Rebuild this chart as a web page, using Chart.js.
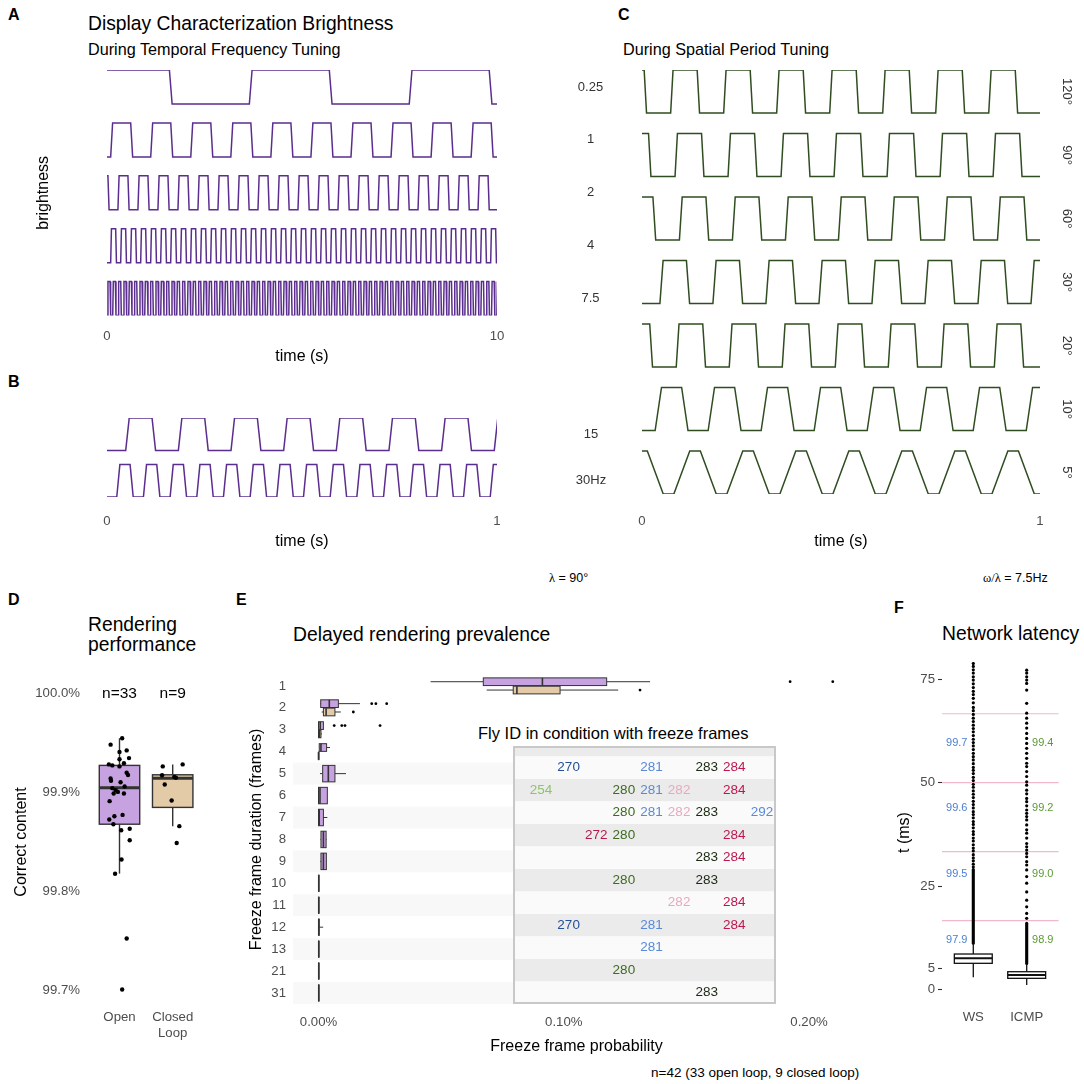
<!DOCTYPE html>
<html>
<head>
<meta charset="utf-8">
<title>Display characterization</title>
<script src="https://cdn.jsdelivr.net/npm/chart.js@4.4.1/dist/chart.umd.min.js"></script>
<style>
  body { margin: 0; background: #fff; font-family: "Liberation Sans", Arial, sans-serif; }
  #page { position: relative; width: 1084px; height: 1084px; overflow: hidden; }
  canvas { position: absolute; }
  .txt { position: absolute; white-space: nowrap; line-height: 1; color: #000; }
  .tag { font-weight: bold; font-size: 16px; }
  .ttl { font-size: 19.3px; }
  .sub { font-size: 16.2px; }
  .note { font-size: 12.5px; }
  .gr { font-family: "Liberation Serif", "DejaVu Serif", serif; }
</style>
</head>
<body>
<div id="page">
  <div class="txt tag" style="left:8px;top:7px">A</div>
  <div class="txt ttl" style="left:88px;top:14.3px">Display Characterization Brightness</div>
  <div class="txt sub" style="left:88px;top:40.6px">During Temporal Frequency Tuning</div>
  <div class="txt tag" style="left:8px;top:374px">B</div>
  <div class="txt tag" style="left:618px;top:7px">C</div>
  <div class="txt sub" style="left:623px;top:41.3px">During Spatial Period Tuning</div>
  <div class="txt note" style="left:549px;top:572px"><span class="gr">λ</span> = 90°</div>
  <div class="txt note" style="left:983px;top:572px"><span class="gr">ω/λ</span> = 7.5Hz</div>
  <div class="txt tag" style="left:8px;top:592px">D</div>
  <div class="txt ttl" style="left:88px;top:615.4px;line-height:20px">Rendering<br>performance</div>
  <div class="txt tag" style="left:236px;top:592px">E</div>
  <div class="txt ttl" style="left:293px;top:624.6px">Delayed rendering prevalence</div>
  <div class="txt" style="left:478px;top:725.3px;font-size:16.5px">Fly ID in condition with freeze frames</div>
  <div class="txt" style="left:651px;top:1066px;font-size:13.5px">n=42 (33 open loop, 9 closed loop)</div>
  <div class="txt tag" style="left:894px;top:600px">F</div>
  <div class="txt ttl" style="left:942px;top:624.4px">Network latency</div>

  <canvas id="chartA" width="590" height="300" style="left:30px;top:70px"></canvas>
  <canvas id="chartB" width="590" height="137" style="left:30px;top:418px"></canvas>
  <canvas id="chartC" width="484" height="485" style="left:600px;top:70px"></canvas>
  <canvas id="chartD" width="202" height="377" style="left:8px;top:668px"></canvas>
  <canvas id="chartE" width="627" height="400" style="left:243px;top:660px"></canvas>
  <canvas id="chartTable" width="263" height="258" style="left:513px;top:746px"></canvas>
  <canvas id="chartF" width="204" height="390" style="left:880px;top:650px"></canvas>
</div>
<script>
// ---------- A: brightness during temporal frequency tuning (10 s) ----------
const tfLabels = ["0.25", "1", "2", "4", "7.5"];
const tfPeriods = [4.1, 1.027, 0.513, 0.2564, 0.1368];   // s, from edge spacing
const tfFirstRise = [3.65, 0.094, 0.28, 0.094, 0.01];    // s
const tfRamps = [0.07, 0.05, 0.03, 0.02, 0.015];

// ---------- B: 1 s traces at lambda = 90 deg ----------
const bLabels = ["15", "30Hz"];
const bPeriods = [0.135, 0.0684];
const bFirstRise = [0.048, 0.025];
const bRamps = [0.009, 0.008];

// ---------- C: spatial period tuning at 7.5 Hz ----------
const spLabels = ["120°", "90°", "60°", "30°", "20°", "10°", "5°"];
const spPeriods = [0.1332, 0.1332, 0.1332, 0.1332, 0.1332, 0.1332, 0.1332];
const spFirstRise = [0.072, 0.083, 0.094, 0.045, 0.086, 0.033, 0.08];
const spRamps = [0.006, 0.006, 0.007, 0.008, 0.007, 0.016, 0.04];

// ---------- D: rendering performance ----------
const loopGroups = ["Open", ["Closed", "Loop"]];
const loopN = ["n=33", "n=9"];
const loopTicks = [99.7, 99.8, 99.9, 100.0];
const openContent = [99.955, 99.9485, 99.9427, 99.9411, 99.9337, 99.9349, 99.9298, 99.9285, 99.9275, 99.9265,
  99.920, 99.9178, 99.9142, 99.912, 99.9104, 99.9045, 99.9023, 99.9061, 99.899, 99.899, 99.8913, 99.8774,
  99.876, 99.8728, 99.868, 99.8618, 99.8634, 99.8518, 99.8323, 99.8178, 99.7524, 99.7007, 99.9007];
const openJitter = [0.05, -0.167, 0.135, 0, 0, 0.179, 0.083, -0.2, -0.135, 0, 0.135, 0.16, -0.167, -0.16, 0.02,
  -0.135, -0.071, 0.096, -0.11, 0.083, -0.186, 0.058, -0.096, -0.192, -0.115, 0.032, 0.192, 0.192, 0.038,
  -0.083, 0.135, 0.05, -0.03];
const closedContent = [99.9265, 99.9285, 99.9175, 99.9159, 99.9081, 99.892, 99.866, 99.849, 99.915];
const closedJitter = [-0.187, 0.187, -0.2, 0.03, -0.15, -0.02, 0.125, 0.075, 0.06];
// [lower whisker, q1, median, q3, upper whisker]
const loopBoxes = [[99.818, 99.868, 99.905, 99.9275, 99.955], [99.866, 99.885, 99.9145, 99.918, 99.9285]];

// ---------- E: delayed rendering prevalence (% of frames) ----------
const freezeRows = ["1", "2", "3", "4", "5", "6", "7", "8", "9", "10", "11", "12", "13", "21", "31"];
const freezeTicks = [0, 0.1, 0.2];
const openFreeze = [
  [0.0457, 0.0672, 0.0913, 0.1175, 0.1352],
  [0.0006, 0.0009, 0.0044, 0.0081, 0.0169],
  [0, 0, 0.0007, 0.002, 0.002],
  [0.0003, 0.0003, 0.001, 0.0033, 0.0047],
  [0.0006, 0.0017, 0.004, 0.0067, 0.0112],
  [0, 0, 0.0006, 0.0036, 0.0036],
  [0, 0, 0.0003, 0.002, 0.0036],
  [0.0008, 0.001, 0.002, 0.0031, 0.0033],
  [0.0007, 0.001, 0.002, 0.0032, 0.0033],
  [0, 0, 0.0001, 0.0002, 0.0002],
  [0, 0, 0.0001, 0.0002, 0.0002],
  [0, 0, 0.0001, 0.0003, 0.0019],
  [0, 0, 0.0001, 0.0002, 0.0002],
  [0, 0, 0.0001, 0.0002, 0.0002],
  [0, 0, 0.0001, 0.0002, 0.0002]];
const closedFreeze = [
  [0.0686, 0.0794, 0.0809, 0.0985, 0.1222],
  [0.0013, 0.002, 0.0031, 0.0067, 0.0091],
  [0, 0, 0.0004, 0.001, 0.0014],
  [0, 0, 0, 0.0002, 0.0002],
  null, null, null, null, null, null, null, null, null, null, null];
const openFreezeOut = [[0.1923, 0.2097], [0.0217, 0.0234, 0.0278], [0.0064, 0.0095, 0.0108, 0.0251],
  [], [], [], [], [], [], [], [], [], [], [], []];
const closedFreezeOut = [[0.1311], [0.0142], [], [], [], [], [], [], [], [], [], [], [], [], []];

// fly IDs per freeze duration
const flyIds = ["254", "270", "272", "280", "281", "282", "283", "284", "292"];
const flyColors = ["#8fc46a", "#22509a", "#b3184b", "#3d6b1f", "#5a8ad6", "#e8a9c0", "#1a2a10", "#c0164c", "#5b8ad8"];
const flyTableRows = ["5", "6", "7", "8", "9", "10", "11", "12", "13", "21", "31"];
const flyTable = [
  ["270", "281", "283", "284"],
  ["254", "280", "281", "282", "284"],
  ["280", "281", "282", "283", "292"],
  ["272", "280", "284"],
  ["283", "284"],
  ["280", "283"],
  ["282", "284"],
  ["270", "281", "284"],
  ["281"],
  ["280"],
  ["283"]];

// ---------- F: network latency (ms) ----------
const latencyGroups = ["WS", "ICMP"];
const latencyTicks = [0, 5, 25, 50, 75];
const latencyBoxes = [[2.95, 6.33, 7.54, 8.58, 11.2], [1.1, 2.7, 3.5, 4.3, 6.3]];
const latencyDense = [[11.2, 29.0], [6.3, 16.0]];
const wsOutliers = [29.6, 30.3, 31.1, 31.8, 32.6, 33.5, 34.2, 35.0, 35.9, 36.6, 37.5, 38.2, 39.1, 39.9, 40.6,
  41.5, 42.3, 43.0, 43.9, 44.7, 45.5, 46.4, 47.2, 48.0, 48.9, 49.6, 50.5, 51.3, 52.2, 53.0, 53.7, 54.6, 55.5,
  56.3, 57.1, 58.0, 58.9, 59.7, 60.5, 61.4, 62.3, 63.1, 63.9, 64.8, 65.6, 66.5, 67.4, 68.2, 69.3, 70.4, 71.3,
  72.1, 73.0, 73.9, 74.8, 75.6, 76.5, 77.3, 78.1, 78.8];
const icmpOutliers = [17.2, 18.4, 20.0, 21.6, 23.6, 25.7, 27.3, 28.9, 30.1, 30.9, 32.1, 32.9, 33.7, 34.5, 35.3,
  36.6, 37.8, 38.6, 39.8, 41.0, 41.8, 42.6, 43.4, 44.4, 45.4, 46.2, 47.3, 48.2, 49.4, 50.2, 51.5, 52.7, 53.9,
  54.7, 55.9, 57.1, 58.3, 59.5, 60.7, 61.9, 63.2, 64.4, 65.6, 66.8, 69.2, 72.4, 74.0, 74.8, 75.6, 76.5, 77.2];
const frameLines = [16.67, 33.33, 50, 66.67];
const wsPercentiles = ["97.9", "99.5", "99.6", "99.7"];
const icmpPercentiles = ["98.9", "99.0", "99.2", "99.4"];
const percentileAt = [12, 27.9, 43.8, 59.5];

// ---------- shared look ----------
Chart.defaults.font.family = '"Liberation Sans", Arial, sans-serif';
Chart.defaults.color = '#4d4d4d';
Chart.defaults.animation = false;
Chart.defaults.responsive = false;
Chart.defaults.plugins.legend.display = false;
Chart.defaults.plugins.tooltip.enabled = false;

const noGrid = {display: false, drawTicks: false};
const noBorder = {display: false};
const tickFont = {size: 13.2};
const titleFont = {size: 16};
const purpleFill = '#c7a2e0';
const tanFill = '#e4cba8';
const FONT = '"Liberation Sans", Arial, sans-serif';

// a square brightness trace from its first rising edge and period
function squareTrace(firstRise, period, ramp, tEnd, base) {
  const half = period / 2;
  let start = firstRise;
  while (start > 0) start -= period;
  const pts = [{x: start - half, y: base}];
  for (let k = 0; start + k * half < tEnd + half; k++) {
    const t = start + k * half;
    const rising = k % 2 === 0;
    pts.push({x: t, y: base + (rising ? 0 : 1)});
    pts.push({x: t + ramp, y: base + (rising ? 1 : 0)});
  }
  return pts;
}

function traceLabels(labels, centers, dx, rotate) {
  return {
    id: 'traceLabels',
    afterDraw(chart) {
      const ctx = chart.ctx, y = chart.scales.y;
      ctx.save();
      ctx.font = '13px ' + FONT;
      ctx.fillStyle = '#333';
      ctx.textAlign = 'center';
      ctx.textBaseline = 'middle';
      labels.forEach((lab, i) => {
        ctx.save();
        ctx.translate(chart.chartArea.right + dx, y.getPixelForValue(centers[i]));
        if (rotate) ctx.rotate(Math.PI / 2);
        ctx.fillText(lab, 0, 0);
        ctx.restore();
      });
      ctx.restore();
    }
  };
}

function waveChart(id, o) {
  const n = o.firstRise.length;
  const base = i => (n - 1 - i) * o.spacing;
  const datasets = o.firstRise.map((r, i) => ({
    data: squareTrace(r, o.periods[i], o.ramps[i], o.tEnd, base(i)),
    borderColor: o.color, borderWidth: 1.5, pointRadius: 0, fill: false
  }));
  return new Chart(document.getElementById(id), {
    type: 'line',
    data: {datasets},
    options: {
      layout: {padding: o.padding},
      scales: {
        x: {
          type: 'linear', min: 0, max: o.tEnd,
          afterBuildTicks: s => { s.ticks = [{value: 0}, {value: o.tEnd}]; },
          ticks: {padding: o.tickPad, font: tickFont},
          grid: noGrid, border: noBorder,
          title: {display: true, text: 'time (s)', color: '#000', font: titleFont},
          afterFit: s => { s.height = o.xAxisH; }
        },
        y: {
          type: 'linear', min: 0, max: base(0) + 1, display: !!o.yTitle,
          ticks: {display: false}, grid: noGrid, border: noBorder,
          title: {display: !!o.yTitle, text: o.yTitle || '', color: '#000', font: titleFont},
          afterFit: s => { s.width = o.yAxisW || 0; }
        }
      }
    },
    plugins: [traceLabels(o.labels, o.firstRise.map((r, i) => base(i) + 0.5), o.labelDx, o.rotate)]
  });
}

// box + whiskers drawn through the chart scales
function boxLayer(items, horizontal, line, lw, mlw) {
  return {
    id: 'boxLayer',
    beforeDatasetsDraw(chart) {
      const ctx = chart.ctx;
      const pos = horizontal ? chart.scales.y : chart.scales.x;
      const val = horizontal ? chart.scales.x : chart.scales.y;
      const P = (p, v) => horizontal ? [v, p] : [p, v];
      const seg = (a, b) => { ctx.beginPath(); ctx.moveTo(a[0], a[1]); ctx.lineTo(b[0], b[1]); ctx.stroke(); };
      ctx.save();
      ctx.strokeStyle = line;
      items.forEach(b => {
        const c = pos.getPixelForValue(b.at);
        const a = pos.getPixelForValue(b.at - b.half), z = pos.getPixelForValue(b.at + b.half);
        const [lo, q1, md, q3, hi] = b.stats.map(v => val.getPixelForValue(v));
        ctx.lineWidth = lw;
        seg(P(c, lo), P(c, q1));
        seg(P(c, q3), P(c, hi));
        const p1 = P(a, q1), p2 = P(z, q3);
        const x = Math.min(p1[0], p2[0]), y = Math.min(p1[1], p2[1]);
        const w = Math.abs(p2[0] - p1[0]), h = Math.abs(p2[1] - p1[1]);
        ctx.fillStyle = b.fill;
        ctx.fillRect(x, y, w, h);
        ctx.strokeRect(x, y, w, h);
        ctx.lineWidth = mlw;
        seg(P(a, md), P(z, md));
      });
      ctx.restore();
    }
  };
}

// ---------- A ----------
waveChart('chartA', {
  firstRise: tfFirstRise, periods: tfPeriods, ramps: tfRamps, labels: tfLabels,
  tEnd: 10, spacing: 1.556, color: '#5b2d8e',
  padding: {left: 0, right: 123, top: 0, bottom: 0},
  yTitle: 'brightness', yAxisW: 77, xAxisH: 54.4, tickPad: 12.5, labelDx: 93.5, rotate: false
});

// ---------- B ----------
waveChart('chartB', {
  firstRise: bFirstRise, periods: bPeriods, ramps: bRamps, labels: bLabels,
  tEnd: 1, spacing: 1.437, color: '#5b2d8e',
  padding: {left: 77, right: 123, top: 0, bottom: 0},
  xAxisH: 58, tickPad: 16, labelDx: 94, rotate: false
});

// ---------- C ----------
waveChart('chartC', {
  firstRise: spFirstRise, periods: spPeriods, ramps: spRamps, labels: spLabels,
  tEnd: 1, spacing: 1.4767, color: '#2f4d20',
  padding: {left: 42, right: 44, top: 0, bottom: 0},
  xAxisH: 61, tickPad: 19, labelDx: 27, rotate: true
});

// ---------- D ----------
const nLabels = {
  id: 'nLabels',
  afterDatasetsDraw(chart) {
    const ctx = chart.ctx;
    ctx.save();
    ctx.font = '15.5px ' + FONT;
    ctx.fillStyle = '#000';
    ctx.textAlign = 'center';
    ctx.textBaseline = 'middle';
    loopN.forEach((t, i) => ctx.fillText(t, chart.scales.x.getPixelForValue(i), chart.scales.y.getPixelForValue(100)));
    ctx.restore();
  }
};
new Chart(document.getElementById('chartD'), {
  type: 'scatter',
  data: {
    datasets: [
      {data: openContent.map((v, i) => ({x: openJitter[i], y: v})), backgroundColor: '#000', borderWidth: 0, pointRadius: 2.2},
      {data: closedContent.map((v, i) => ({x: 1 + closedJitter[i], y: v})), backgroundColor: '#000', borderWidth: 0, pointRadius: 2.2}
    ]
  },
  options: {
    layout: {padding: {top: 7.85, right: 9.9, left: 0, bottom: 0}},
    scales: {
      x: {
        type: 'linear', min: -0.5, max: 1.5,
        afterBuildTicks: s => { s.ticks = [{value: 0}, {value: 1}]; },
        ticks: {callback: v => loopGroups[v], padding: 14.3, font: tickFont},
        grid: noGrid, border: noBorder,
        afterFit: s => { s.height = 49.85; }
      },
      y: {
        type: 'linear', min: 99.695, max: 100.005,
        afterBuildTicks: s => { s.ticks = loopTicks.map(v => ({value: v})); },
        ticks: {callback: v => v.toFixed(1) + '%', padding: 12.9, font: tickFont},
        grid: noGrid, border: noBorder,
        title: {display: true, text: 'Correct content', color: '#000', font: titleFont},
        afterFit: s => { s.width = 84.9; }
      }
    }
  },
  plugins: [boxLayer([
    {at: 0, half: 0.38, stats: loopBoxes[0], fill: purpleFill},
    {at: 1, half: 0.38, stats: loopBoxes[1], fill: tanFill}
  ], false, '#333', 1.4, 3), nLabels]
});

// ---------- E ----------
const eBoxes = [];
const eOpenPts = [], eClosedPts = [];
openFreeze.forEach((st, i) => {
  const two = closedFreeze[i] !== null;
  eBoxes.push({at: two ? i - 0.19 : i, half: two ? 0.175 : 0.375, stats: st, fill: purpleFill});
  if (two) eBoxes.push({at: i + 0.19, half: 0.175, stats: closedFreeze[i], fill: tanFill});
  openFreezeOut[i].forEach(v => eOpenPts.push({x: v, y: two ? i - 0.19 : i}));
  closedFreezeOut[i].forEach(v => eClosedPts.push({x: v, y: i + 0.19}));
});
const eBands = {
  id: 'eBands',
  beforeDatasetsDraw(chart) {
    const ctx = chart.ctx, y = chart.scales.y, area = chart.chartArea;
    ctx.save();
    ctx.fillStyle = '#f8f8f8';
    for (let i = 4; i < freezeRows.length; i += 2) {
      const t = y.getPixelForValue(i - 0.5), b = y.getPixelForValue(i + 0.5);
      ctx.fillRect(area.left, t, 220, b - t);
    }
    ctx.restore();
  }
};
new Chart(document.getElementById('chartE'), {
  type: 'scatter',
  data: {
    datasets: [
      {data: eOpenPts, backgroundColor: '#000', borderWidth: 0, pointRadius: 1.4},
      {data: eClosedPts, backgroundColor: '#000', borderWidth: 0, pointRadius: 1.4}
    ]
  },
  options: {
    layout: {padding: {top: 6.45, right: 10, left: 0, bottom: 0}},
    scales: {
      x: {
        type: 'linear', min: -0.0104, max: 0.2208,
        afterBuildTicks: s => { s.ticks = freezeTicks.map(v => ({value: v})); },
        ticks: {callback: v => v.toFixed(2) + '%', padding: 10, font: tickFont},
        grid: noGrid, border: noBorder,
        title: {display: true, text: 'Freeze frame probability', color: '#000', font: titleFont},
        afterFit: s => { s.height = 56.05; }
      },
      y: {
        type: 'linear', min: -0.5, max: 14.5, reverse: true,
        afterBuildTicks: s => { s.ticks = freezeRows.map((r, i) => ({value: i})); },
        ticks: {callback: v => freezeRows[v], padding: 7, font: tickFont},
        grid: noGrid, border: noBorder,
        title: {display: true, text: 'Freeze frame duration (frames)', color: '#000', font: titleFont},
        afterFit: s => { s.width = 50; }
      }
    }
  },
  plugins: [eBands, boxLayer(eBoxes, true, '#333', 1, 1.6)]
});

// ---------- E inset: fly IDs ----------
const tablePoints = [];
flyTable.forEach((ids, r) => ids.forEach(id => {
  tablePoints.push({x: flyIds.indexOf(id), y: freezeRows.indexOf(flyTableRows[r]), id});
}));
const tableLayer = {
  id: 'tableLayer',
  beforeDatasetsDraw(chart) {
    const ctx = chart.ctx, y = chart.scales.y, area = chart.chartArea;
    const first = freezeRows.indexOf(flyTableRows[0]);
    ctx.save();
    ctx.fillStyle = '#ebebeb';
    ctx.fillRect(area.left, area.top, area.right - area.left, y.getPixelForValue(first - 0.5) - area.top);
    flyTableRows.forEach((r, k) => {
      const i = freezeRows.indexOf(r);
      const t = y.getPixelForValue(i - 0.5), b = y.getPixelForValue(i + 0.5);
      ctx.fillStyle = k % 2 === 0 ? '#fafafa' : '#ebebeb';
      ctx.fillRect(area.left, t, area.right - area.left, b - t);
    });
    ctx.strokeStyle = '#c8c8c8';
    ctx.lineWidth = 2;
    ctx.strokeRect(area.left + 1, area.top + 1, area.right - area.left - 2, area.bottom - area.top - 2);
    ctx.restore();
  },
  afterDatasetsDraw(chart) {
    const ctx = chart.ctx, meta = chart.getDatasetMeta(0);
    ctx.save();
    ctx.font = '13.5px ' + FONT;
    ctx.textAlign = 'center';
    ctx.textBaseline = 'middle';
    meta.data.forEach((el, i) => {
      const p = tablePoints[i];
      ctx.fillStyle = flyColors[p.x];
      ctx.fillText(p.id, el.x, el.y);
    });
    ctx.restore();
  }
};
new Chart(document.getElementById('chartTable'), {
  type: 'scatter',
  data: {datasets: [{data: tablePoints, pointRadius: 0}]},
  options: {
    layout: {padding: 0},
    scales: {
      x: {type: 'linear', display: false, min: -1.0136, max: 8.507},
      y: {type: 'linear', display: false, min: 3.0356, max: 14.5, reverse: true}
    }
  },
  plugins: [tableLayer]
});

// ---------- F ----------
const fLayer = {
  id: 'fLayer',
  beforeDatasetsDraw(chart) {
    const ctx = chart.ctx, x = chart.scales.x, y = chart.scales.y, area = chart.chartArea;
    ctx.save();
    ctx.strokeStyle = '#f2b8c9';
    ctx.lineWidth = 1.2;
    frameLines.forEach(v => {
      const py = y.getPixelForValue(v);
      ctx.beginPath(); ctx.moveTo(area.left, py); ctx.lineTo(area.right, py); ctx.stroke();
    });
    ctx.strokeStyle = '#000';
    ctx.lineWidth = 3.1;
    ctx.lineCap = 'round';
    latencyDense.forEach((r, i) => {
      const px = x.getPixelForValue(i);
      ctx.beginPath(); ctx.moveTo(px, y.getPixelForValue(r[0])); ctx.lineTo(px, y.getPixelForValue(r[1])); ctx.stroke();
    });
    ctx.font = '11px ' + FONT;
    ctx.textAlign = 'center';
    ctx.textBaseline = 'middle';
    percentileAt.forEach((v, k) => {
      ctx.fillStyle = '#4b7fd1';
      ctx.fillText(wsPercentiles[k], x.getPixelForValue(-0.31), y.getPixelForValue(v));
      ctx.fillStyle = '#5a9a32';
      ctx.fillText(icmpPercentiles[k], x.getPixelForValue(1.3), y.getPixelForValue(v));
    });
    ctx.restore();
  }
};
new Chart(document.getElementById('chartF'), {
  type: 'scatter',
  data: {
    datasets: [
      {data: wsOutliers.map(v => ({x: 0, y: v})), backgroundColor: '#000', borderWidth: 0, pointRadius: 1.6},
      {data: icmpOutliers.map(v => ({x: 1, y: v})), backgroundColor: '#000', borderWidth: 0, pointRadius: 1.6}
    ]
  },
  options: {
    layout: {padding: {top: 12, right: 25.4, left: 11.4, bottom: 0}},
    scales: {
      x: {
        type: 'linear', min: -0.586, max: 1.5975,
        afterBuildTicks: s => { s.ticks = [{value: 0}, {value: 1}]; },
        ticks: {callback: v => latencyGroups[v], padding: 6.8, font: tickFont},
        grid: noGrid, border: noBorder,
        afterFit: s => { s.height = 37; }
      },
      y: {
        type: 'linear', min: -3.264, max: 79.18,
        afterBuildTicks: s => { s.ticks = latencyTicks.map(v => ({value: v})); },
        ticks: {padding: 3, font: tickFont},
        grid: {display: true, drawOnChartArea: false, drawTicks: true, tickLength: 4, color: '#333', tickWidth: 1.1},
        border: noBorder,
        title: {display: true, text: 't (ms)', color: '#000', font: titleFont},
        afterFit: s => { s.width = 50.6; }
      }
    }
  },
  plugins: [fLayer, boxLayer([
    {at: 0, half: 0.355, stats: latencyBoxes[0], fill: '#fff'},
    {at: 1, half: 0.355, stats: latencyBoxes[1], fill: '#fff'}
  ], false, '#111', 1.3, 2)]
});
</script>
</body>
</html>
